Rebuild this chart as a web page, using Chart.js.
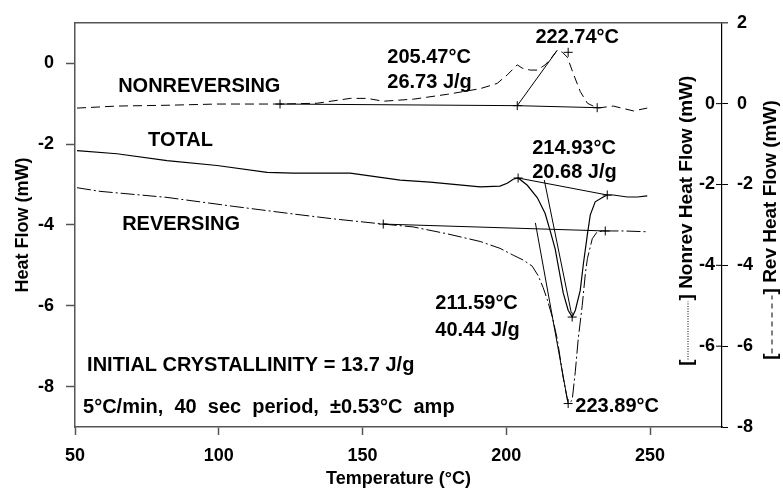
<!DOCTYPE html>
<html>
<head>
<meta charset="UTF-8">
<title>MDSC Heat Flow</title>
<script src="https://cdn.jsdelivr.net/npm/chart.js@4.4.0/dist/chart.umd.min.js"></script>
<style>
  body { margin: 0; background: #fff; }
  #chart { display: block; }
</style>
</head>
<body>
<canvas id="chart" width="783" height="494"></canvas>
<script>
// temperature (C) and heat flow (mW)
var totalT  = [50.7, 64.6, 82.0, 99.4, 116.8, 125.9, 145.7, 163.1, 173.5, 190.9, 197.8, 200.3, 202.4, 204.1, 207.3, 210.8, 213.5, 215.3, 217.0, 218.1, 219.8, 221.5, 222.9, 224.0, 225.7, 226.8, 228.2, 229.2, 230.9, 233.7, 235.1, 237.2, 242.1, 245.6, 249.0]
var totalHF = [-2.16, -2.24, -2.41, -2.53, -2.70, -2.72, -2.72, -2.89, -2.94, -3.06, -3.04, -2.97, -2.87, -2.84, -3.02, -3.33, -3.72, -4.16, -4.60, -5.03, -5.69, -6.11, -6.28, -6.11, -5.62, -4.96, -4.23, -3.75, -3.43, -3.31, -3.26, -3.26, -3.31, -3.31, -3.28]

var nonrevT  = [50.7, 64.6, 82.0, 99.4, 121.3, 134.2, 145.7, 151.6, 157.2, 167.6, 179.4, 190.9, 196.8, 200.3, 203.8, 205.5, 208.3, 210.8, 213.5, 215.3, 217.7, 219.5, 221.2, 223.3, 225.7, 228.2, 231.6, 237.2, 244.2, 249.0]
var nonrevHF = [-0.11, -0.06, -0.04, -0.01, -0.01, 0.01, 0.13, 0.13, 0.06, 0.11, 0.23, 0.37, 0.50, 0.71, 0.96, 0.88, 0.83, 0.83, 0.96, 1.10, 1.32, 1.27, 1.15, 0.74, 0.30, 0.01, -0.11, -0.06, -0.18, -0.11]

var revT  = [50.7, 58.7, 82.0, 105.0, 125.9, 139.8, 157.2, 167.6, 179.4, 190.9, 197.8, 202.4, 205.9, 209.0, 211.1, 212.8, 214.2, 216.0, 217.7, 219.8, 221.5, 222.9, 224.0, 225.0, 226.4, 227.5, 228.2, 229.9, 231.6, 234.4, 240.7, 249.0]
var revHF = [-2.08, -2.17, -2.32, -2.54, -2.73, -2.85, -2.98, -3.05, -3.22, -3.41, -3.58, -3.75, -3.87, -4.02, -4.26, -4.55, -4.84, -5.28, -5.82, -6.79, -7.42, -7.34, -6.62, -5.82, -4.99, -4.19, -3.83, -3.34, -3.17, -3.15, -3.15, -3.17]

// analysis construction: baselines, tangents and + marks
var nonrevBaseT = [121.3, 203.8, 231.6]
var nonrevBaseHF = [-0.01, -0.05, -0.10]
var nonrevTanT = [203.8, 217.7]
var nonrevTanHF = [-0.05, 1.32]
var nonrevMarkT = [121.3, 203.8, 231.6, 221.5]
var nonrevMarkHF = [-0.01, -0.05, -0.10, 1.27]

var totalBaseT = [204.1, 235.1]
var totalBaseHF = [-2.84, -3.26]
var totalTanT = [213.2, 222.6]
var totalTanHF = [-2.89, -6.18]
var totalMarkT = [204.1, 235.1, 222.9]
var totalMarkHF = [-2.84, -3.26, -6.28]

var revBaseT = [157.2, 234.4]
var revBaseHF = [-2.98, -3.15]
var revTanT = [210.1, 221.3]
var revTanHF = [-2.95, -7.35]
var revMarkT = [157.2, 234.4, 221.5]
var revMarkHF = [-2.98, -3.15, -7.42]

// tick labels
var tempTicks = [50, 100, 150, 200, 250]
var hfTicks = [-8, -6, -4, -2, 0]
var revTicks = [2, 0, -2, -4, -6, -8]
var nonrevTicks = [0, -2, -4, -6]

// text on the plot: text, temperature, heat flow (left axis)
var notes = [
  ['NONREVERSING', 65.0, -0.58],
  ['TOTAL', 75.4, -1.90],
  ['REVERSING', 66.4, -3.99],
  ['205.47\u00B0C', 158.6, 0.15],
  ['26.73 J/g', 158.6, -0.48],
  ['222.74\u00B0C', 210.1, 0.64],
  ['214.93\u00B0C', 209.0, -2.11],
  ['20.68 J/g', 209.0, -2.70],
  ['211.59\u00B0C', 175.3, -5.94],
  ['40.44 J/g', 175.3, -6.62],
  ['INITIAL CRYSTALLINITY = 13.7 J/g', 54.2, -7.47],
  ['5\u00B0C/min,  40  sec  period,  \u00B10.53\u00B0C  amp', 52.8, -8.51],
  ['223.89\u00B0C', 224.0, -8.49]
]

var FONT = '"Liberation Sans", Arial, sans-serif'

function pts(xs, ys) {
  return xs.map(function(x, i) { return {x: x, y: ys[i]} })
}

function curve(data, axis, dash, width) {
  return {data: data, yAxisID: axis, showLine: true, borderColor: '#000', borderWidth: width,
          borderDash: dash, pointRadius: 0, fill: false, tension: 0}
}

function marks(data, axis) {
  return {data: data, yAxisID: axis, showLine: false, pointStyle: 'cross', pointRadius: 4.5,
          borderColor: '#000', borderWidth: 1}
}

function setTicks(list) {
  return function(scale) { scale.ticks = list.map(function(v) { return {value: v} }) }
}

// rotated axis title with a bracketed line sample, read bottom to top
function sideTitle(ctx, text, cx, by, dash, len) {
  ctx.save()
  ctx.translate(cx, by)
  ctx.rotate(-Math.PI / 2)
  ctx.textAlign = 'left'
  ctx.textBaseline = 'middle'
  ctx.fillText('[', 0, 0)
  var w = ctx.measureText('[').width
  ctx.setLineDash(dash)
  ctx.lineWidth = 1
  ctx.beginPath()
  ctx.moveTo(w, 1)
  ctx.lineTo(w + len, 1)
  ctx.stroke()
  ctx.setLineDash([])
  ctx.fillText('] ' + text, w + len + 1, 0)
  ctx.restore()
}

var extras = {
  id: 'extras',
  afterDraw: function(chart) {
    var ctx = chart.ctx, a = chart.chartArea
    var sx = chart.scales.x, sy = chart.scales.y, sn = chart.scales.yN
    ctx.save()
    ctx.strokeStyle = '#555'
    ctx.lineWidth = 1.5
    ctx.beginPath()
    ctx.moveTo(a.left, a.top)
    ctx.lineTo(a.right + 6, a.top)
    ctx.stroke()

    ctx.fillStyle = '#000'
    ctx.strokeStyle = '#000'
    ctx.font = 'bold 18px ' + FONT
    ctx.textAlign = 'right'
    ctx.textBaseline = 'middle'
    ctx.lineWidth = 1
    nonrevTicks.forEach(function(v) {
      var py = sn.getPixelForValue(v)
      ctx.fillText(String(v), a.right - 7, py)
      ctx.beginPath()
      ctx.moveTo(a.right - 6, py)
      ctx.lineTo(a.right, py)
      ctx.stroke()
    })

    ctx.font = 'bold 20px ' + FONT
    ctx.textAlign = 'left'
    notes.forEach(function(n) {
      ctx.fillText(n[0], sx.getPixelForValue(n[1]), sy.getPixelForValue(n[2]))
    })

    ctx.font = 'bold 19px ' + FONT
    sideTitle(ctx, 'Nonrev Heat Flow (mW)', a.right - 35, a.top + 343, [1, 1.5], 58)
    sideTitle(ctx, 'Rev Heat Flow (mW)', a.right + 49, a.top + 337, [5, 4], 58)
    ctx.restore()
  }
}

var tickFont = {family: FONT, size: 18, weight: 'bold'}

new Chart(document.getElementById('chart'), {
  type: 'scatter',
  data: {
    datasets: [
      curve(pts(nonrevT, nonrevHF), 'yN', [9, 5], 1),
      curve(pts(totalT, totalHF), 'y', [], 1.2),
      curve(pts(revT, revHF), 'y2', [14, 3, 2, 3], 1),
      curve(pts(nonrevBaseT, nonrevBaseHF), 'yN', [], 1),
      curve(pts(nonrevTanT, nonrevTanHF), 'yN', [], 1),
      curve(pts(totalBaseT, totalBaseHF), 'y', [], 1),
      curve(pts(totalTanT, totalTanHF), 'y', [], 1),
      curve(pts(revBaseT, revBaseHF), 'y2', [], 1),
      curve(pts(revTanT, revTanHF), 'y2', [], 1),
      marks(pts(nonrevMarkT, nonrevMarkHF), 'yN'),
      marks(pts(totalMarkT, totalMarkHF), 'y'),
      marks(pts(revMarkT, revMarkHF), 'y2')
    ]
  },
  options: {
    responsive: false,
    animation: false,
    devicePixelRatio: 1,
    layout: {padding: {top: 15, left: 0, right: 0, bottom: 0}},
    plugins: {legend: {display: false}, tooltip: {enabled: false}},
    scales: {
      x: {
        type: 'linear', min: 50, max: 275,
        afterBuildTicks: setTicks(tempTicks),
        afterFit: function(s) { s.height = 67 },
        grid: {drawOnChartArea: false, tickLength: 8, tickColor: '#555', tickWidth: 1.5},
        border: {color: '#555', width: 1.5},
        ticks: {font: tickFont, color: '#000', padding: 10, maxRotation: 0},
        title: {display: true, text: 'Temperature (\u00B0C)', font: tickFont, color: '#000', padding: {top: 0, bottom: 4}}
      },
      y: {
        position: 'left', min: -9, max: 1,
        afterBuildTicks: setTicks(hfTicks),
        afterFit: function(s) { s.width = 75 },
        grid: {drawOnChartArea: false, tickLength: 9, tickColor: '#555', tickWidth: 1.5},
        border: {color: '#555', width: 1.5},
        ticks: {font: tickFont, color: '#000', padding: 12},
        title: {display: true, text: 'Heat Flow (mW)', font: tickFont, color: '#000', padding: {top: 12, bottom: 0}}
      },
      y2: {
        position: 'right', min: -8, max: 2,
        afterBuildTicks: setTicks(revTicks),
        afterFit: function(s) { s.width = 61 },
        grid: {drawOnChartArea: false, tickLength: 6, tickColor: '#000', tickWidth: 1},
        border: {color: '#000', width: 1.2},
        ticks: {font: tickFont, color: '#000', padding: 9}
      },
      yN: {
        display: false, position: 'right', min: -8, max: 2
      }
    }
  },
  plugins: [extras]
})
</script>
</body>
</html>
